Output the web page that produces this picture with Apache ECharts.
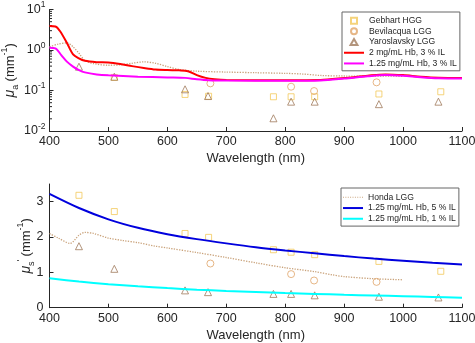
<!DOCTYPE html>
<html>
<head>
<meta charset="utf-8">
<script src="https://cdn.jsdelivr.net/npm/echarts@6/dist/echarts.min.js"></script>
<style>
  html, body { margin: 0; padding: 0; background: #fff; }
  #chart { width: 475px; height: 343px; }
</style>
</head>
<body>
<div id="chart"></div>
<script>
// top panel: absorption mu_a (mm^-1)
const redWl = [400, 410, 418, 430, 440, 450, 460, 480, 500, 520, 540, 560, 580, 600, 620, 635, 650, 665, 680, 700, 800, 860, 900, 940, 970, 1000, 1030, 1060, 1100]
const redMua = [3.9, 3.8, 2.9, 1.45, 0.78, 0.62, 0.54, 0.5, 0.49, 0.45, 0.4, 0.36, 0.33, 0.32, 0.315, 0.3, 0.24, 0.205, 0.19, 0.182, 0.18, 0.182, 0.203, 0.232, 0.25, 0.24, 0.218, 0.206, 0.204]
const magWl = [400, 410, 420, 430, 440, 450, 460, 480, 500, 550, 600, 630, 650, 670, 700, 800, 860, 900, 940, 970, 1000, 1030, 1060, 1100]
const magMua = [1.14, 1.1, 0.75, 0.51, 0.39, 0.32, 0.28, 0.25, 0.237, 0.22, 0.21, 0.205, 0.19, 0.18, 0.176, 0.174, 0.177, 0.197, 0.225, 0.242, 0.232, 0.212, 0.2, 0.198]
const hondaWlA = [400, 415, 430, 440, 450, 460, 475, 500, 520, 540, 560, 580, 600, 620, 650, 700, 750, 800, 830, 860, 900, 950, 1000]
const hondaMua = [1.2, 1.4, 1.5, 1.2, 0.83, 0.55, 0.46, 0.42, 0.43, 0.47, 0.51, 0.47, 0.39, 0.33, 0.3, 0.285, 0.275, 0.265, 0.255, 0.235, 0.228, 0.226, 0.225]

// bottom panel: reduced scattering mu_s' (mm^-1)
const wl50 = [400, 450, 500, 550, 600, 650, 700, 750, 800, 850, 900, 950, 1000, 1050, 1100]
const blueMus = [3.22, 2.82, 2.5, 2.26, 2.08, 1.94, 1.82, 1.71, 1.62, 1.54, 1.46, 1.39, 1.33, 1.27, 1.22]
const cyanMus = [0.83, 0.74, 0.665, 0.605, 0.555, 0.51, 0.475, 0.445, 0.415, 0.39, 0.365, 0.345, 0.325, 0.305, 0.285]
const hondaWlB = [400, 415, 435, 450, 460, 475, 500, 525, 550, 580, 600, 650, 700, 750, 800, 850, 880, 900, 950, 1000]
const hondaMus = [2.1, 1.97, 1.82, 2.05, 2.13, 2.1, 1.97, 1.9, 1.84, 1.74, 1.69, 1.56, 1.42, 1.27, 1.13, 1.02, 0.93, 0.88, 0.82, 0.79]

// literature points
const gebWlA = [510, 630, 670, 780, 810, 850, 959, 1064]
const gebMua = [0.21, 0.08, 0.072, 0.07, 0.07, 0.07, 0.082, 0.093]
const gebWlB = [450, 510, 630, 670, 780, 810, 850, 959, 1064]
const gebMus = [3.18, 2.72, 2.1, 1.99, 1.64, 1.57, 1.5, 1.31, 1.03]
const bevWl = [673, 810, 849, 955]
const bevMua = [0.15, 0.124, 0.097, 0.159]
const bevMus = [1.25, 0.95, 0.77, 0.73]
const yarWl = [450, 510, 630, 669, 780, 810, 850, 959, 1060]
const yarMua = [0.387, 0.219, 0.107, 0.073, 0.0206, 0.053, 0.053, 0.046, 0.053]
const yarMus = [1.74, 1.1, 0.49, 0.44, 0.39, 0.39, 0.35, 0.31, 0.29]

const FONT = '"Liberation Sans", Arial, Helvetica, sans-serif'
const AX = '#262626'
const C_GEB = '#F2C85A'
const C_BEV = '#E0A468'
const C_YAR = '#A07A5C'
const C_HONDA = '#C9A27A'

// legend icons
const ICON_LINE = 'path://M0,0H20V2H0Z'
const ICON_DOTS = 'path://M0,0h1v1h-1zM2.5,0h1v1h-1zM5,0h1v1h-1zM7.5,0h1v1h-1zM10,0h1v1h-1zM12.5,0h1v1h-1zM15,0h1v1h-1zM17.5,0h1v1h-1zM20,0h1v1h-1z'
const ICON_RECT = 'path://M0,0H10V10H0Z'
const ICON_TRI = 'path://M5,0L10,8.66L0,8.66Z'

const pairs = (xs, ys) => xs.map((x, i) => [x, ys[i]])

// minor ticks for the log axis (2..9 in each decade)
const minorTicks = []
;[0.01, 0.1, 1].forEach(d => {
    for (let k = 2; k <= 9; k++) minorTicks.push([400, d * k])
})

const richTick = {
    b: { fontFamily: FONT, fontSize: 12.5, lineHeight: 18, color: AX },
    sup: { fontFamily: FONT, fontSize: 8.5, lineHeight: 9, color: AX, verticalAlign: 'top' }
}
const richName = {
    b: { fontFamily: FONT, fontSize: 13, lineHeight: 20, color: AX },
    i: { fontFamily: FONT, fontSize: 14, lineHeight: 20, color: AX, fontStyle: 'italic' },
    sup: { fontFamily: FONT, fontSize: 9, lineHeight: 10, color: AX, verticalAlign: 'top' },
    sub: { fontFamily: FONT, fontSize: 9, lineHeight: 10, color: AX, verticalAlign: 'bottom' }
}

const xAxisBase = (gridIndex) => ({
    type: 'value',
    gridIndex,
    min: 400,
    max: 1100,
    interval: 100,
    name: 'Wavelength (nm)',
    nameLocation: 'middle',
    nameGap: 21,
    nameTextStyle: { fontFamily: FONT, fontSize: 13, color: AX },
    axisLine: { lineStyle: { color: AX, width: 1 } },
    axisTick: { inside: true, length: 4, lineStyle: { color: AX } },
    axisLabel: { fontFamily: FONT, fontSize: 12.5, color: AX, margin: 4, formatter: v => String(v) },
    splitLine: { show: false }
})

const scatter = (name, symbol, color, xi, data, size) => ({
    name,
    type: 'scatter',
    xAxisIndex: xi,
    yAxisIndex: xi,
    symbol,
    symbolSize: size,
    data,
    itemStyle: { color: 'rgba(0,0,0,0)', borderColor: color, borderWidth: 1 },
    z: 3
})

const line = (name, color, xi, data, width, type) => ({
    name,
    type: 'line',
    xAxisIndex: xi,
    yAxisIndex: xi,
    data,
    symbol: 'none',
    smooth: 0.3,
    lineStyle: { color, width, type: type || 'solid' },
    itemStyle: { color },
    z: type ? 2 : 4
})

const legendBase = {
    orient: 'vertical',
    itemWidth: 20,
    itemHeight: 6,
    itemGap: 0,
    backgroundColor: '#fff',
    borderColor: '#666',
    borderWidth: 1,
    borderRadius: 0,
    textStyle: { fontFamily: FONT, fontSize: 8.6, lineHeight: 10.7, color: AX }
}

const chart = echarts.init(document.getElementById('chart'), null, { renderer: 'canvas' })

chart.setOption({
    animation: false,
    backgroundColor: '#fff',
    textStyle: { fontFamily: FONT },
    grid: [
        { left: 49.5, right: 13, top: 9.5, height: 121.5, outerBoundsMode: 'none', containLabel: false },
        { left: 49.5, right: 13, top: 184, height: 123.7, outerBoundsMode: 'none', containLabel: false }
    ],
    xAxis: [xAxisBase(0), xAxisBase(1)],
    yAxis: [
        {
            type: 'log',
            gridIndex: 0,
            logBase: 10,
            min: 0.01,
            max: 10,
            interval: 1,
            name: '{i|μ}{sub|a} {b|(mm}{sup|-1}{b|)}',
            nameLocation: 'middle',
            nameGap: 29,
            nameMoveOverlap: false,
            nameRotate: 90,
            nameTextStyle: { rich: richName },
            axisLine: { show: true, lineStyle: { color: AX } },
            axisTick: { inside: true, length: 4, lineStyle: { color: AX } },
            axisLabel: {
                margin: 4,
                formatter: v => '{b|10}{sup|' + Math.round(Math.log10(v)) + '}',
                rich: richTick
            },
            splitLine: { show: false }
        },
        {
            type: 'value',
            gridIndex: 1,
            min: 0,
            max: 3.5,
            interval: 1,
            name: '{i|μ}{sub|s}{sup|\'} {b|(mm}{sup|-1}{b|)}',
            nameLocation: 'middle',
            nameGap: 13,
            nameMoveOverlap: false,
            nameRotate: 90,
            nameTextStyle: { rich: richName },
            axisLine: { show: true, lineStyle: { color: AX } },
            axisTick: { inside: true, length: 4, lineStyle: { color: AX }, customValues: [0, 1, 2, 3] },
            axisLabel: { fontFamily: FONT, fontSize: 12.5, color: AX, margin: 6, customValues: [0, 1, 2, 3] },
            splitLine: { show: false }
        }
    ],
    legend: [
        Object.assign({}, legendBase, {
            left: 342,
            top: 12,
            padding: [3.3, 3, 2, 2],
            data: [
                { name: 'Gebhart HGG', icon: ICON_RECT },
                { name: 'Bevilacqua LGG', icon: 'circle' },
                { name: 'Yaroslavsky LGG', icon: ICON_TRI },
                { name: '2 mg/mL Hb, 3 % IL', icon: ICON_LINE },
                { name: '1.25 mg/mL Hb, 3 % IL', icon: ICON_LINE }
            ]
        }),
        Object.assign({}, legendBase, {
            left: 341,
            top: 188,
            padding: [4, 3, 2, 2],
            data: [
                { name: 'Honda LGG', icon: ICON_DOTS },
                { name: '1.25 mg/mL Hb, 5 % IL', icon: ICON_LINE },
                { name: '1.25 mg/mL Hb, 1 % IL', icon: ICON_LINE }
            ]
        })
    ],
    series: [
        // top
        line('Honda LGG', C_HONDA, 0, pairs(hondaWlA, hondaMua), 1.3, 'dotted'),
        scatter('Gebhart HGG', 'rect', C_GEB, 0, pairs(gebWlA, gebMua), 6),
        scatter('Bevilacqua LGG', 'circle', C_BEV, 0, pairs(bevWl, bevMua), 7),
        scatter('Yaroslavsky LGG', 'triangle', C_YAR, 0, pairs(yarWl, yarMua), 7),
        line('2 mg/mL Hb, 3 % IL', '#FF0000', 0, pairs(redWl, redMua), 2),
        line('1.25 mg/mL Hb, 3 % IL', '#FF00FF', 0, pairs(magWl, magMua), 2),
        {
            name: 'minor',
            type: 'custom',
            xAxisIndex: 0,
            yAxisIndex: 0,
            silent: true,
            data: minorTicks,
            renderItem: (params, api) => {
                const p = api.coord([api.value(0), api.value(1)])
                return {
                    type: 'line',
                    shape: { x1: p[0], y1: p[1], x2: p[0] + 2.5, y2: p[1] },
                    style: { stroke: AX, lineWidth: 1 }
                }
            }
        },
        // bottom
        line('Honda LGG', C_HONDA, 1, pairs(hondaWlB, hondaMus), 1.3, 'dotted'),
        scatter('Gebhart HGG', 'rect', C_GEB, 1, pairs(gebWlB, gebMus), 6),
        scatter('Bevilacqua LGG', 'circle', C_BEV, 1, pairs(bevWl, bevMus), 7),
        scatter('Yaroslavsky LGG', 'triangle', C_YAR, 1, pairs(yarWl, yarMus), 7),
        line('1.25 mg/mL Hb, 5 % IL', '#0000DD', 1, pairs(wl50, blueMus), 2),
        line('1.25 mg/mL Hb, 1 % IL', '#00FFFF', 1, pairs(wl50, cyanMus), 2)
    ]
})

window.addEventListener('resize', () => chart.resize())
</script>
</body>
</html>
